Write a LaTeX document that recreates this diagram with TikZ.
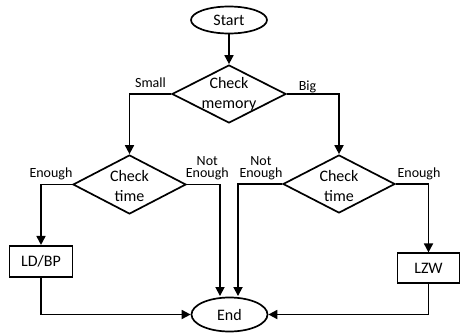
\documentclass[tikz,border=0pt]{standalone}
\usepackage{fontspec}
\setmainfont{Carlito}
\usetikzlibrary{shapes.geometric,arrows.meta}

\tikzset{
  every picture/.style={x=1pt,y=-1pt},
  base/.style={draw=black,line width=1.7pt,inner sep=0pt,font=\fontsize{16}{20}\selectfont},
  terminal/.style={base,ellipse},
  decision/.style={base,diamond,minimum width=114pt,minimum height=58pt},
  process/.style={base,rectangle,minimum width=63pt,minimum height=31pt},
  dtext/.style={font=\fontsize{16}{20}\selectfont,align=center,inner sep=0pt},
  branch/.style={font=\fontsize{14}{12}\selectfont,align=center,inner sep=0pt},
  flow/.style={line width=1.7pt,-{Triangle[length=9pt,width=9pt]}}
}

\begin{document}
\begin{tikzpicture}
\useasboundingbox (0,0) rectangle (460,332);

% shapes
\node[terminal,minimum width=76pt,minimum height=27pt] (start) at (229,20) {Start};
\node[decision,label={[dtext]center:Check\\memory}] (mem) at (229,94) {};
\node[decision,minimum width=113pt,minimum height=59pt,
      label={[dtext,yshift=-2pt]center:Check\\time}] (timeL) at (129.5,184.5) {};
\node[decision,minimum width=112pt,
      label={[dtext,yshift=-2pt]center:Check\\time}] (timeR) at (339,184) {};
\node[process] (ldbp) at (41,261.3) {LD/BP};
\node[process,minimum width=62pt,minimum height=30pt] (lzw) at (428.5,268.3) {LZW};
\node[terminal,minimum width=76pt,minimum height=34pt] (end) at (229.5,314.5) {End};

% landing points on the top of the end terminal
\coordinate (inL) at ([xshift=-9.5pt,yshift=0.6pt]end.north);
\coordinate (inR) at ([xshift=8.5pt,yshift=0.6pt]end.north);

% connectors
\draw[flow] (start) -- (mem);
\draw[flow] (mem.west) -| (timeL.north);
\draw[flow] (mem.east) -| (timeR.north);
\draw[flow] (timeL.west) -| (ldbp.north);
\draw[flow] (timeL.east) -| (inL);
\draw[flow] (timeR.west) -| (inR);
\draw[flow] (timeR.east) -| (lzw.north);
\draw[flow] (ldbp.south) |- (end.west);
\draw[flow] (lzw.south) |- (end.east);

% branch labels
\node[branch,anchor=base] (lsmall) at (150.5,87.7) {Small};
\node[branch,anchor=base] (lbig) at (307.5,90) {Big};
\node[branch,anchor=base] (lenL) at (51,177) {Enough};
\node[branch] (lnotL) at (207.3,168.3) {Not\\Enough};
\node[branch] (lnotR) at (261,168.3) {Not\\Enough};
\node[branch,anchor=base] (lenR) at (419,177.5) {Enough};
\end{tikzpicture}
\end{document}
